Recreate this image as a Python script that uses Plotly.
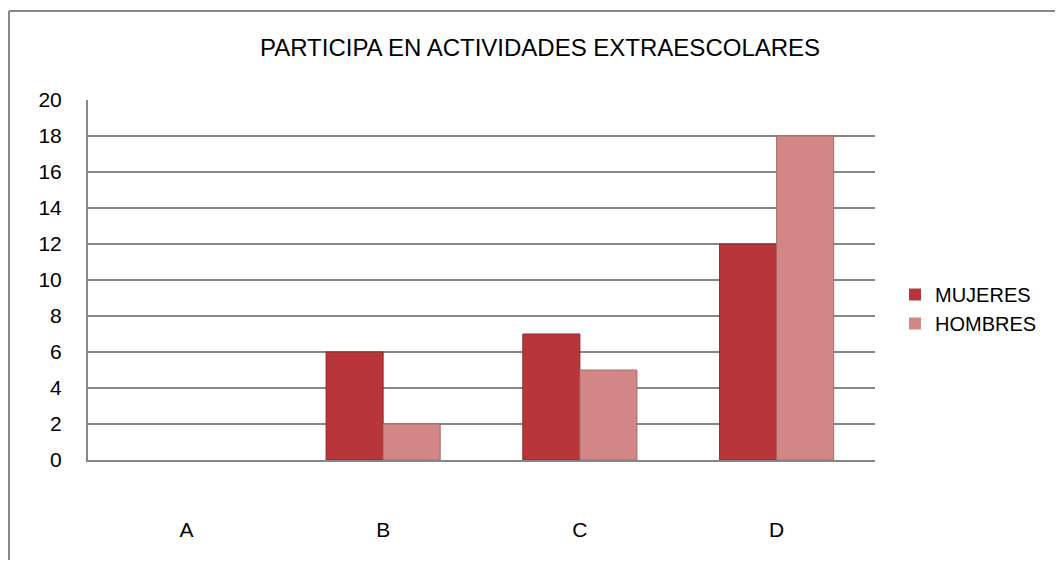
import plotly.graph_objects as go

categories = ["A", "B", "C", "D"]
mujeres = [0, 6, 7, 12]
hombres = [0, 2, 5, 18]
y_ticks = list(range(0, 21, 2))

OFF = 8  # page body margin
W, H = 1063 - 2 * OFF, 568 - 2 * OFF
# plot area in screen pixels
SL, SR, ST, SB = 88, 875, 100, 460
L, R, T, B = SL - OFF, SR - OFF, ST - OFF, SB - OFF

fig = go.Figure()
fig.add_trace(go.Bar(name="MUJERES", x=categories, y=mujeres,
                     marker=dict(color="#B8363A",
                                 line=dict(color="#8E2A2C",
                                           width=[0 if v == 0 else 1 for v in mujeres]))))
fig.add_trace(go.Bar(name="HOMBRES", x=categories, y=hombres,
                     marker=dict(color="#D28686",
                                 line=dict(color="#A86A6A",
                                           width=[0 if v == 0 else 1 for v in hombres]))))

font = "Liberation Sans, Arial, sans-serif"

def px2x(px):
    return (px - SL) / (SR - SL)

def py2y(py):
    return (SB - py) / (SB - ST)

fig.update_layout(
    width=W, height=H,
    margin=dict(l=L, r=W - R, t=T, b=H - B, pad=0),
    paper_bgcolor="white", plot_bgcolor="white",
    barmode="group", bargap=0.42, bargroupgap=0,
    font=dict(family=font, size=20, color="#000000"),
    title=dict(text="PARTICIPA EN ACTIVIDADES EXTRAESCOLARES",
               x=(540 - OFF) / W, xanchor="center", y=1 - (48 - OFF) / H, yanchor="middle",
               font=dict(size=24, family=font, color="#000000")),
    showlegend=True,
    legend=dict(x=px2x(895), xanchor="left", y=py2y(309), yanchor="middle",
                font=dict(size=20, family=font), bgcolor="rgba(0,0,0,0)",
                itemwidth=30, tracegroupgap=0),
    xaxis=dict(showgrid=False, showline=True, linecolor="#868686", linewidth=2,
               ticks="", ticklabelstandoff=50, tickfont=dict(size=21)),
    yaxis=dict(range=[0, 20], tickvals=y_ticks, showgrid=True, gridcolor="#868686",
               gridwidth=1.5, showline=True, linecolor="#868686", linewidth=2,
               zeroline=False, ticks="", ticklabelstandoff=20, tickfont=dict(size=21)),
    shapes=[
        dict(type="line", xref="paper", yref="paper",
             x0=px2x(9), x1=px2x(9), y0=py2y(11), y1=py2y(600),
             line=dict(color="#888888", width=2)),
        dict(type="line", xref="paper", yref="paper",
             x0=px2x(9), x1=px2x(1100), y0=py2y(11), y1=py2y(11),
             line=dict(color="#888888", width=2)),
    ],
)

fig.write_html("out.html")
